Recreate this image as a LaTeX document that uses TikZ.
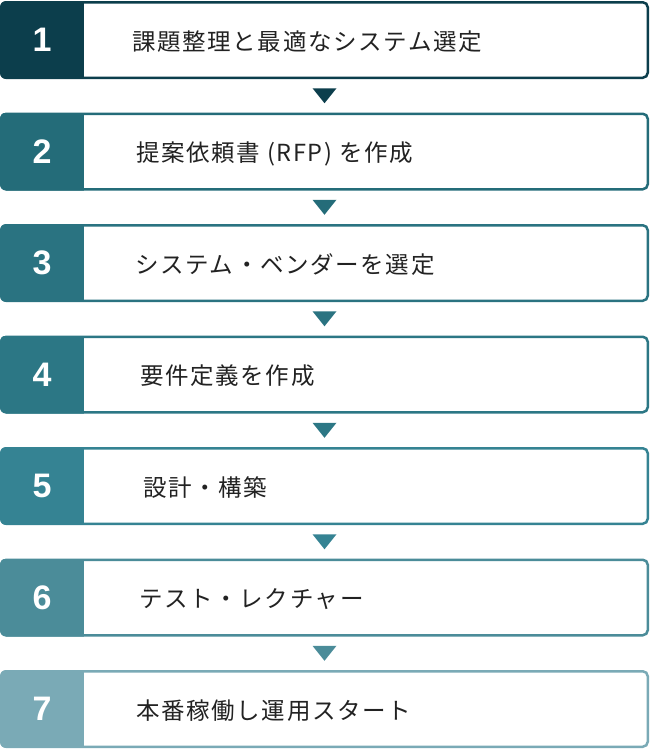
\documentclass[tikz,border=0pt]{standalone}
\usepackage{fontspec}
\setmainfont{Liberation Sans}
\newfontfamily\jpfont{Noto Sans CJK JP}[LetterSpace=7]
\usetikzlibrary{calc}
\definecolor{c1}{HTML}{0C3E4C}
\definecolor{c2}{HTML}{246C79}
\definecolor{c3}{HTML}{2A7381}
\definecolor{c4}{HTML}{2C7785}
\definecolor{c5}{HTML}{358393}
\definecolor{c6}{HTML}{4B8C99}
\definecolor{c7}{HTML}{7AAAB6}
\definecolor{txt}{HTML}{222222}
\begin{document}
\begin{tikzpicture}[x=1pt,y=-1pt]
\useasboundingbox (0,0) rectangle (650,750);
\tikzset{
  rowbox/.style={draw=#1, line width=2.5pt, fill=white, rounded corners=5pt,
    minimum width=646.5pt, minimum height=75.5pt, inner sep=0pt},
  numlabel/.style={text=white, font=\fontsize{34}{34}\selectfont\bfseries, inner sep=0pt},
  steplabel/.style={text=txt, font=\jpfont\fontsize{23.5}{23.5}\selectfont, anchor=base west, inner sep=0pt},
}
\foreach \i/\c/\t/\tx in {
  1/c1/課題整理と最適なシステム選定/132,
  2/c2/提案依頼書 (RFP) を作成/136,
  3/c3/システム・ベンダーを選定/135,
  4/c4/要件定義を作成/140,
  5/c5/設計・構築/143,
  6/c6/テスト・レクチャー/139,
  7/c7/本番稼働し運用スタート/136} {
  \pgfmathsetmacro\yc{40+111.5*(\i-1)}
  \node[rowbox=\c] (b\i) at (324.5,\yc) {};
  \begin{scope}
    \clip[rounded corners=6pt] (0,\yc-39) rectangle (649,\yc+39);
    \fill[\c] (0,\yc-39) rectangle (84,\yc+39);
  \end{scope}
  \node[numlabel] (n\i) at (42,\yc) {\i};
  \node[steplabel] (t\i) at (\tx,\yc+10) {\t};
}
\foreach \i/\c in {1/c1,2/c2,3/c3,4/c4,5/c5,6/c6} {
  \pgfmathtruncatemacro\j{\i+1}
  \path (b\i.south) -- (b\j.north) coordinate[pos=0.5] (m\i);
  \fill[\c] (m\i) ++(-12,-7.5) -- ++(24,0) -- ++(-12,15) -- cycle;
}
\end{tikzpicture}
\end{document}
